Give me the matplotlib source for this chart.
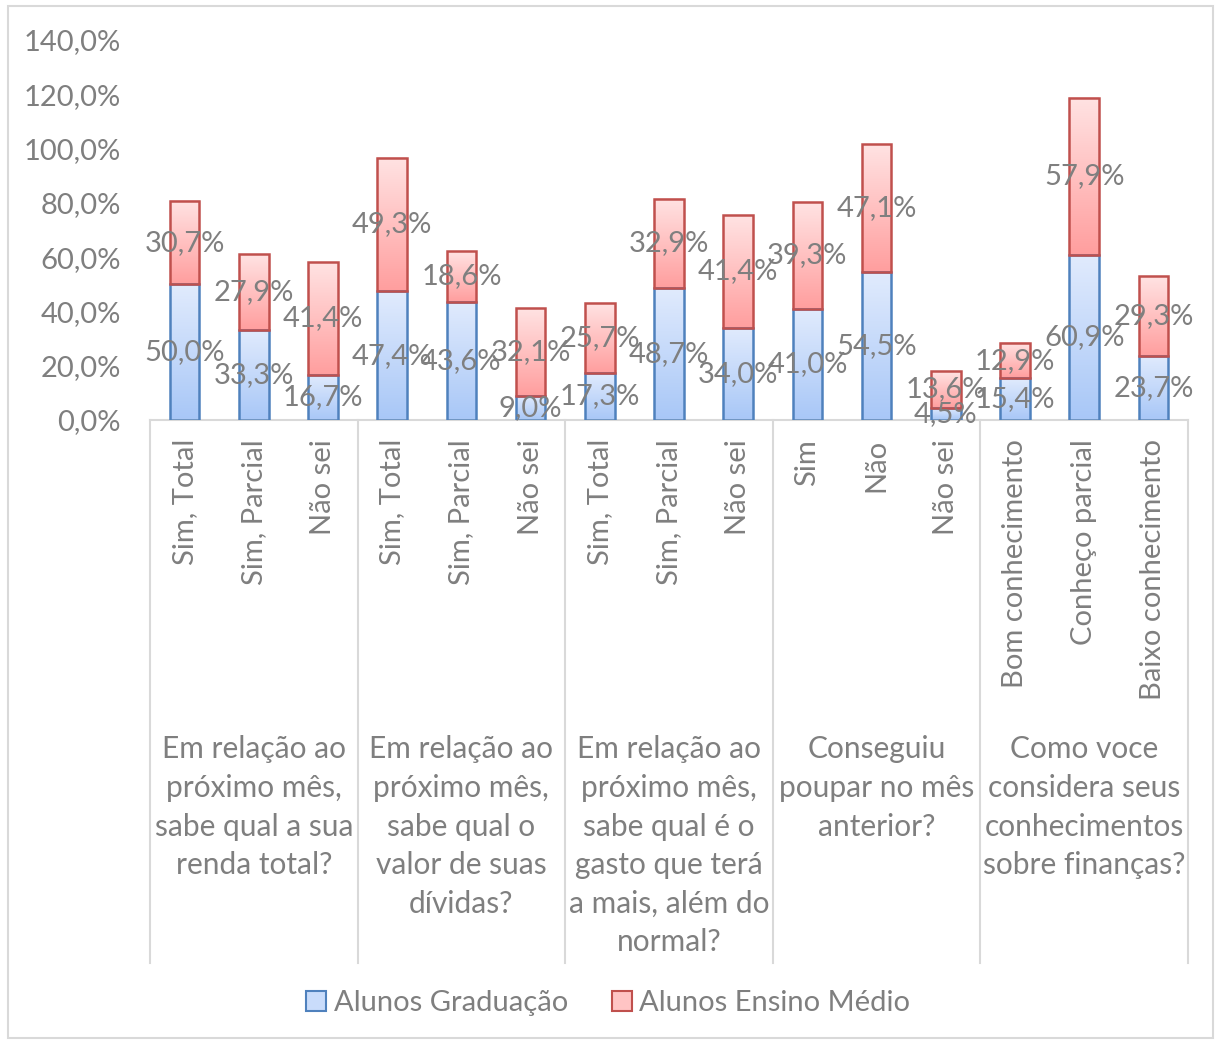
import numpy as np
import matplotlib
matplotlib.use('Agg')
import matplotlib.pyplot as plt
from matplotlib.patches import Patch, Rectangle
from matplotlib.colors import LinearSegmentedColormap

plt.rcParams['font.family'] = ['Lato', 'DejaVu Sans']

# dados
grupos = ['Em relação ao\npróximo mês,\nsabe qual a sua\nrenda total?',
          'Em relação ao\npróximo mês,\nsabe qual o\nvalor de suas\ndívidas?',
          'Em relação ao\npróximo mês,\nsabe qual é o\ngasto que terá\na mais, além do\nnormal?',
          'Conseguiu\npoupar no mês\nanterior?',
          'Como voce\nconsidera seus\nconhecimentos\nsobre finanças?']
categorias = ['Sim, Total', 'Sim, Parcial', 'Não sei',
              'Sim, Total', 'Sim, Parcial', 'Não sei',
              'Sim, Total', 'Sim, Parcial', 'Não sei',
              'Sim', 'Não', 'Não sei',
              'Bom conhecimento', 'Conheço parcial', 'Baixo conhecimento']
graduacao = [50.0, 33.3, 16.7, 47.4, 43.6, 9.0, 17.3, 48.7, 34.0,
             41.0, 54.5, 4.5, 15.4, 60.9, 23.7]
ensino_medio = [30.7, 27.9, 41.4, 49.3, 18.6, 32.1, 25.7, 32.9, 41.4,
                39.3, 47.1, 13.6, 12.9, 57.9, 29.3]
yticks = [0, 20, 40, 60, 80, 100, 120, 140]

cinza = '#7f7f7f'
fs = 21

fig = plt.figure(figsize=(12.16, 10.41), dpi=100)
ax = fig.add_axes([150/1216, 1-420/1041, 1038/1216, 380/1041])

x = np.arange(len(categorias))
b1 = ax.bar(x, graduacao, width=0.43, facecolor='none', edgecolor='#4f81bd', linewidth=1.8, zorder=3)
b2 = ax.bar(x, ensino_medio, width=0.43, bottom=graduacao, facecolor='none', edgecolor='#c0504d', linewidth=1.8, zorder=3)

cm_azul = LinearSegmentedColormap.from_list('az', ['#a8c7f7', '#e1ebfd'])
cm_verm = LinearSegmentedColormap.from_list('vm', ['#ff9e9e', '#ffe3e3'])
grad = np.linspace(0, 1, 256).reshape(-1, 1)
for barras, cm in ((b1, cm_azul), (b2, cm_verm)):
    for p in barras:
        x0, y0 = p.get_x(), p.get_y()
        ax.imshow(grad, cmap=cm, origin='lower', aspect='auto', zorder=2,
                  extent=[x0, x0 + p.get_width(), y0, y0 + p.get_height()])

# rótulos de dados
for i in range(len(x)):
    ax.text(x[i], graduacao[i] / 2, f'{graduacao[i]:.1f}%'.replace('.', ','),
            ha='center', va='center', fontsize=fs, color=cinza, zorder=4)
    ax.text(x[i], graduacao[i] + ensino_medio[i] / 2, f'{ensino_medio[i]:.1f}%'.replace('.', ','),
            ha='center', va='center', fontsize=fs, color=cinza, zorder=4)

ax.set_xlim(-0.5, len(x) - 0.5)
ax.set_ylim(0, 140)
ax.set_yticks(yticks)
ax.set_yticklabels([f'{v:.1f}%'.replace('.', ',') for v in yticks], fontsize=fs, color=cinza)
ax.tick_params(axis='y', length=0, pad=21)
ax.set_xticks([])
for s in ('top', 'right', 'left'):
    ax.spines[s].set_visible(False)
ax.spines['bottom'].set_color('#d9d9d9')
ax.spines['bottom'].set_linewidth(1.5)

# eixo de categorias em dois níveis
for i, c in enumerate(categorias):
    ax.text(x[i], -0.05, c, transform=ax.get_xaxis_transform(), rotation=90,
            ha='center', va='top', fontsize=fs, color=cinza)
for g in range(len(grupos) + 1):
    xs = g * 3 - 0.5
    ax.plot([xs, xs], [0, -1.43], transform=ax.get_xaxis_transform(),
            color='#d9d9d9', lw=1.5, clip_on=False)
for g, nome in enumerate(grupos):
    ax.text(g * 3 + 1, -0.83, nome, transform=ax.get_xaxis_transform(),
            ha='center', va='top', fontsize=21.5, color=cinza, linespacing=1.46)

handles = [Patch(facecolor='#c9dcfb', edgecolor='#4f81bd', lw=1.5, label='Alunos Graduação'),
           Patch(facecolor='#ffc4c4', edgecolor='#c0504d', lw=1.5, label='Alunos Ensino Médio')]
fig.legend(handles=handles, loc='center', bbox_to_anchor=(0.5, 1 - 1003/1041), ncol=2,
           frameon=False, fontsize=fs, labelcolor=cinza, handlelength=0.7, handleheight=0.7,
           handletextpad=0.25, columnspacing=1.5)

fig.patches.append(Rectangle((8/1216, 3/1041), 1205/1216, 1032/1041, transform=fig.transFigure,
                             fill=False, edgecolor='#d9d9d9', lw=1.5))

fig.savefig('out.png', dpi=100)
